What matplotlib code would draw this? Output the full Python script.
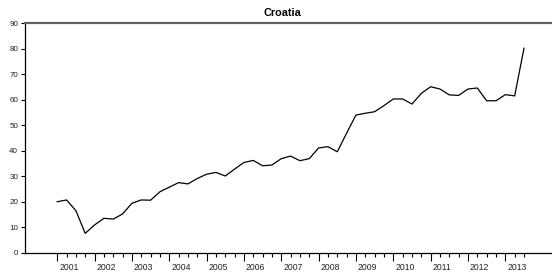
import numpy as np
import matplotlib
matplotlib.use('Agg')
import matplotlib.pyplot as plt

plt.rcParams['font.family'] = ['Liberation Sans Narrow', 'Liberation Sans', 'DejaVu Sans']

# Quarterly values, 2001Q1 .. 2013Q3
years = list(range(2001, 2014))
values = [
    20.1, 20.8, 16.6, 7.7,      # 2001
    11.0, 13.6, 13.3, 15.3,     # 2002
    19.5, 20.8, 20.7, 24.0,     # 2003
    25.8, 27.6, 27.1, 29.2,     # 2004
    30.9, 31.6, 30.2, 32.9,     # 2005
    35.5, 36.3, 34.2, 34.5,     # 2006
    37.0, 38.0, 36.2, 37.0,     # 2007
    41.2, 41.7, 39.7, 47.0,     # 2008
    54.1, 54.8, 55.4, 57.8,     # 2009
    60.4, 60.4, 58.4, 62.6,     # 2010
    65.2, 64.3, 62.0, 61.8,     # 2011
    64.3, 64.7, 59.7, 59.7,     # 2012
    62.1, 61.6, 80.3,           # 2013
]
yticks = [0, 10, 20, 30, 40, 50, 60, 70, 80, 90]

x = np.arange(len(values))

fig = plt.figure(figsize=(5.52, 2.79), dpi=100)
ax = fig.add_axes([0.0453, 0.0932, 0.9547, 0.8226])

ax.plot(x, values, color='black', linewidth=0.9)

ax.set_xlim(-3.45, 53.0)
ax.set_ylim(0, 90)

# spines
ax.spines['left'].set_color('black')
ax.spines['left'].set_linewidth(0.9)
ax.spines['bottom'].set_color('black')
ax.spines['bottom'].set_linewidth(0.9)
ax.spines['top'].set_color('#606060')
ax.spines['top'].set_linewidth(1.6)
ax.spines['right'].set_visible(False)

# y axis
ax.set_yticks(yticks)
ax.set_yticklabels([str(v) for v in yticks])
ax.tick_params(axis='y', direction='out', length=3, width=0.8, pad=2,
               labelsize=5.8, labelcolor='#222222')

# x axis: major ticks at year starts, minor at quarters, labels between
major = [4 * i for i in range(len(years))]
minor = [q for q in range(len(values)) if q % 4 != 0]
ax.set_xticks(major)
ax.set_xticklabels([])
ax.set_xticks(minor, minor=True)
ax.tick_params(axis='x', which='major', direction='out', length=6, width=0.8)
ax.tick_params(axis='x', which='minor', direction='out', length=3, width=0.8)
for i, yr in enumerate(years):
    ax.text(4 * i + 1.25, -0.045, str(yr), transform=ax.get_xaxis_transform(),
            ha='center', va='top', fontsize=6.2, color='#222222')

fig.text(0.511, 0.955, 'Croatia', ha='center', va='center',
         fontsize=7.8, fontweight='bold')

fig.savefig('out.png', dpi=100)
